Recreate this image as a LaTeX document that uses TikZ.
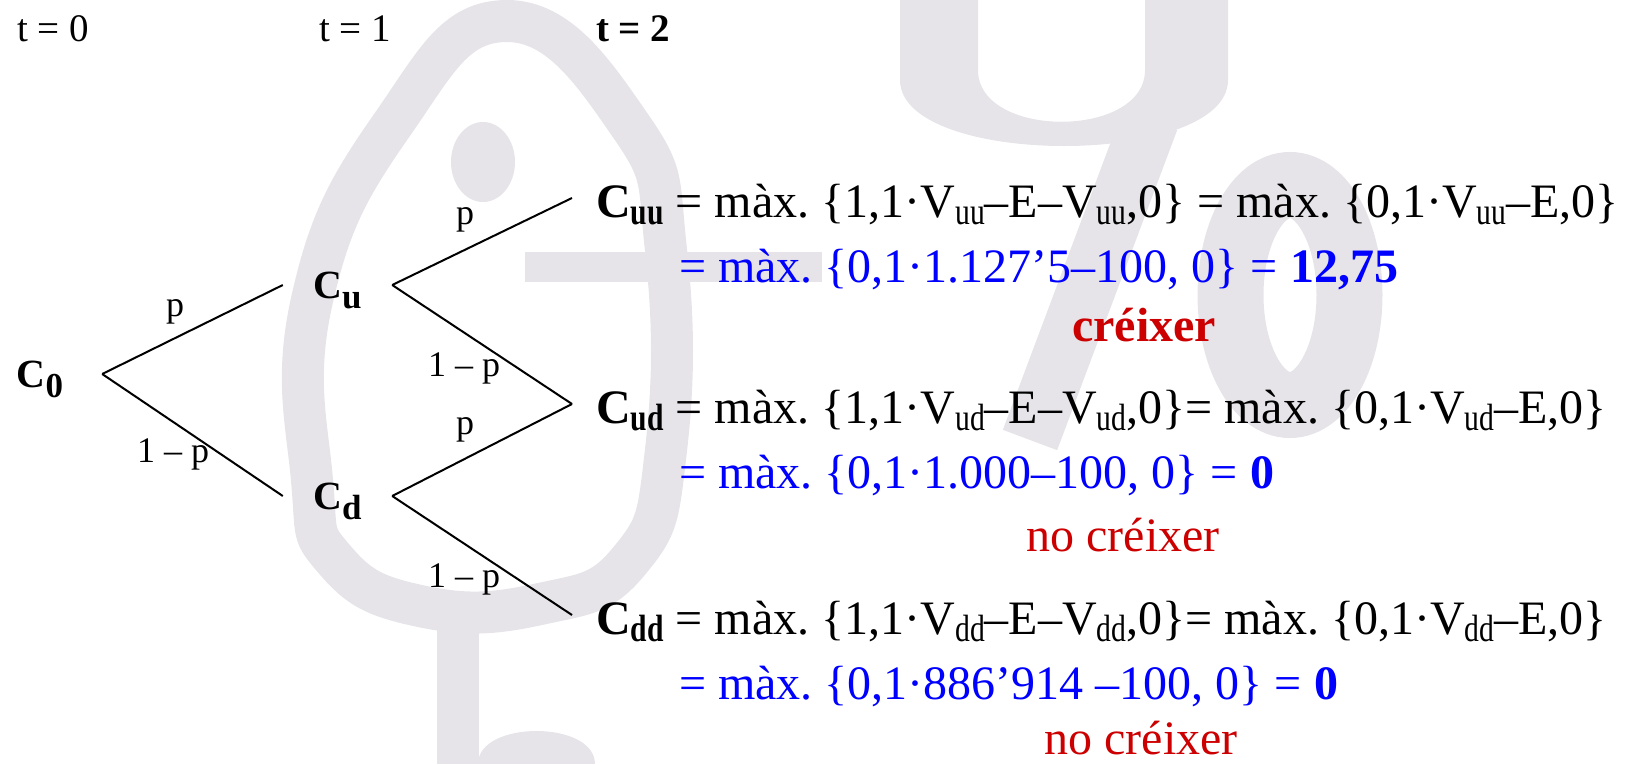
\documentclass[tikz,border=0pt]{standalone}
\usepackage{fontspec}
\setmainfont{Liberation Serif}
\usepackage{graphicx}
\usepackage{tikz}
\usetikzlibrary{positioning}
\definecolor{wmgray}{HTML}{E6E4E9}
\definecolor{valblue}{HTML}{0000FF}
\definecolor{decred}{HTML}{CC0000}
\frenchspacing
\newcommand{\tsub}[1]{\raisebox{-10pt}{\fontsize{35}{35}\selectfont #1}}
\newcommand{\fsub}[1]{\raisebox{-7pt}{\scalebox{0.78}[1]{\fontsize{38}{38}\selectfont #1}}}
\tikzset{
    every node/.style = {inner sep=0pt},
    period/.style = {anchor=base west, font=\fontsize{39}{39}\selectfont},
    state/.style = {font=\fontsize{40}{40}\selectfont\bfseries,
                    text height=26pt, text depth=0pt},
    prob/.style = {anchor=base, font=\fontsize{36}{36}\selectfont},
    leaf/.style = {anchor=base west, inner xsep=24pt, text height=38pt,
                   text depth=0pt, font=\fontsize{48}{48}\selectfont},
    value/.style = {anchor=base west, text=valblue, font=\fontsize{48}{48}\selectfont},
    decision/.style = {anchor=base, text=decred, font=\fontsize{48}{48}\selectfont},
    branch/.style = {line width=2pt, black},
    wm/.style = {draw=wmgray, line width=42pt},
}

\begin{document}
\begin{tikzpicture}[x=1pt, y=-1pt]
        \useasboundingbox (0,0) rectangle (1631,764);
        % Watermark behind the tree
        \draw[wm] plot[smooth cycle, tension=0.8] coordinates {(507,21) (392,125) (312,300)
              (312,480) (335,560) (420,606) (540,604) (630,560) (666,450) (666,250) (630,125)};
        \fill[wmgray] (483,162) ellipse [x radius=32pt, y radius=40pt];
        \fill[wmgray] (525,252) rectangle (822,282);
        \fill[wmgray] (437,630) rectangle (479,764);
        \fill[wmgray] (478,764) .. controls (478,720) and (595,720) .. (595,764) -- cycle;
        \fill[wmgray] (900,-5) -- (900,80) .. controls (900,168) and (1228,168) .. (1228,80)
              -- (1228,-5) -- (1145,-5) -- (1145,70) .. controls (1145,139) and (978,139) .. (978,70)
              -- (978,-5) -- cycle;
        \draw[wmgray, line width=58pt] (1150,120) -- (1030,440);
        \draw[wmgray, line width=66pt] (1290,295) ellipse [x radius=59.5pt, y radius=110pt];
        % Periods
        \node[period] (t0) at (17,41) {t = 0};
        \node[period] (t1) at (319,41) {t = 1};
        \node[period, font=\fontsize{39}{39}\selectfont\bfseries] (t2) at (596,41) {t = 2};
        % Tree
        \node[state, minimum width=124pt] (C0) at (40,374) {C\tsub{0}};
        \node[state, minimum width=109pt] (Cu) at (337.5,285) {C\tsub{u}};
        \node[state, minimum width=109pt] (Cd) at (337.5,496) {C\tsub{d}};
        \node[leaf] (uu) at (572,217) {\textbf{C\fsub{uu}} = màx. \{1,1·V\fsub{uu}–E–V\fsub{uu},0\} = màx. \{0,1·V\fsub{uu}–E,0\}};
        \node[leaf] (ud) at (572,423) {\textbf{C\fsub{ud}} = màx. \{1,1·V\fsub{ud}–E–V\fsub{ud},0\}= màx. \{0,1·V\fsub{ud}–E,0\}};
        \node[leaf] (dd) at (572,634) {\textbf{C\fsub{dd}} = màx. \{1,1·V\fsub{dd}–E–V\fsub{dd},0\}= màx. \{0,1·V\fsub{dd}–E,0\}};
        \draw[branch] (C0.east) -- (Cu.west);
        \draw[branch] (C0.east) -- (Cd.west);
        \draw[branch] (Cu.east) -- (uu.west);
        \draw[branch] (Cu.east) -- (ud.west);
        \draw[branch] (Cd.east) -- (ud.west);
        \draw[branch] (Cd.east) -- (dd.west);
        % Probabilities
        \node[prob] (pu0) at (175,316) {p};
        \node[prob] (pd0) at (173,462) {1 – p};
        \node[prob] (pu1) at (465,224) {p};
        \node[prob] (pd1) at (464,376) {1 – p};
        \node[prob] (pu2) at (465,434) {p};
        \node[prob] (pd2) at (464,587) {1 – p};
        % Values and decisions
        \node[value] (vuu) at (679,282) {= màx. \{0,1·1.127’5–100, 0\} = \textbf{12,75}};
        \node[decision, font=\fontsize{48}{48}\selectfont\bfseries] (duu) at (1144,341) {créixer};
        \node[value] (vud) at (679,488) {= màx. \{0,1·1.000–100, 0\} = \textbf{0}};
        \node[decision] (dud) at (1123,551) {no créixer};
        \node[value] (vdd) at (679,699) {= màx. \{0,1·886’914 –100, 0\} = \textbf{0}};
        \node[decision] (ddd) at (1141,754) {no créixer};
\end{tikzpicture}
\end{document}
